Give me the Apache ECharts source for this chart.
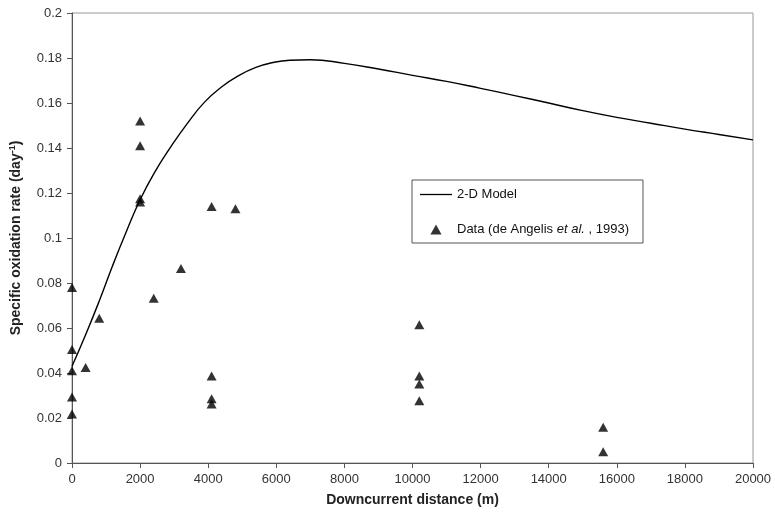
<!DOCTYPE html>
<html>
<head>
<meta charset="utf-8">
<script src="https://cdn.jsdelivr.net/npm/echarts@6/dist/echarts.min.js"></script>
<style>
  html, body { margin: 0; padding: 0; background: #fff; }
  #chart { width: 775px; height: 520px; }
</style>
</head>
<body>
<div id="chart"></div>
<script>
// 2-D model curve
const modelX = [0, 400, 800, 1200, 1600, 2000, 2400, 2900, 3400, 3900, 4400, 4900, 5400, 5900, 6400, 7000,
  8000, 9000, 10000, 11000, 12000, 13000, 14000, 15000, 16000, 17000, 18000, 19000, 20000];
const modelY = [0.043, 0.057, 0.072, 0.088, 0.103, 0.117, 0.1285, 0.1405, 0.1512, 0.1605, 0.1672, 0.1722, 0.1758, 0.178, 0.179, 0.1792,
  0.1776, 0.1751, 0.1723, 0.1696, 0.1665, 0.1633, 0.160, 0.1566, 0.1536, 0.151, 0.1484, 0.146, 0.1436];

// de Angelis et al. (1993) measurements
const dataX = [0, 0, 0, 0, 0, 400, 800, 2000, 2000, 2000, 2000, 2400, 3200, 4100, 4100, 4100, 4100, 4800,
  10200, 10200, 10200, 10200, 15600, 15600];
const dataY = [0.078, 0.0505, 0.041, 0.0293, 0.0218, 0.0425, 0.0643, 0.152, 0.141, 0.1175, 0.116, 0.0732, 0.0864,
  0.114, 0.0387, 0.0286, 0.0262, 0.113, 0.0615, 0.0387, 0.0351, 0.0277, 0.0159, 0.005];

const chart = echarts.init(document.getElementById('chart'));

const font = 'Liberation Sans, Arial, sans-serif';

const option = {
  animation: false,
  grid: {
    left: 71, right: 22, top: 13, bottom: 57,
    show: true, borderColor: '#999', borderWidth: 1
  },
  legend: {
    left: 412, top: 180,
    orient: 'vertical',
    backgroundColor: '#fff',
    borderColor: '#555', borderWidth: 1, borderRadius: 0,
    padding: [8, 14, 7, 8],
    itemGap: 22,
    itemWidth: 32, itemHeight: 10,
    symbolKeepAspect: true,
    textStyle: { fontFamily: font, fontSize: 13, color: '#111', rich: { i: { fontStyle: 'italic', fontFamily: font, fontSize: 13, color: '#111' } } },
    formatter: function (name) {
      if (name.indexOf('Data') === 0) return 'Data (de Angelis {i|et al.} , 1993)';
      return name;
    },
    data: [
      { name: '2-D Model', icon: 'path://M0,0 L32,0 L32,1.3 L0,1.3 Z', itemStyle: { color: '#000' } },
      { name: 'Data', icon: 'path://M5,0 L10,9 L0,9 Z', itemStyle: { color: '#000' } }
    ]
  },
  xAxis: {
    type: 'value', min: 0, max: 20000, interval: 2000,
    name: 'Downcurrent distance (m)', nameLocation: 'middle', nameGap: 30,
    nameTextStyle: { fontFamily: font, fontSize: 14, fontWeight: 'bold', color: '#222' },
    axisLine: { lineStyle: { color: '#555', width: 1 } },
    axisTick: { show: true, length: 5, lineStyle: { color: '#555' } },
    axisLabel: { fontFamily: font, fontSize: 13, color: '#333', margin: 10, formatter: v => String(v) },
    splitLine: { show: false }
  },
  yAxis: {
    type: 'value', min: 0, max: 0.2, interval: 0.02,
    name: 'Specific oxidation rate (day{sup|-1})', nameLocation: 'middle', nameGap: 47, nameRotate: 90,
    nameTextStyle: {
      fontFamily: font, fontSize: 14, fontWeight: 'bold', color: '#222',
      rich: { sup: { fontFamily: font, fontSize: 9, fontWeight: 'bold', color: '#222', padding: [0, 0, 8, 0] } }
    },
    axisLine: { show: true, lineStyle: { color: '#555', width: 1 } },
    axisTick: { show: true, length: 5, lineStyle: { color: '#555' } },
    axisLabel: { fontFamily: font, fontSize: 13, color: '#333', margin: 10 },
    splitLine: { show: false }
  },
  series: [
    {
      name: '2-D Model',
      type: 'line',
      smooth: true,
      symbol: 'none',
      lineStyle: { color: '#000', width: 1.4 },
      itemStyle: { color: '#000' },
      data: modelX.map((x, i) => [x, modelY[i]]),
      z: 2
    },
    {
      name: 'Data',
      type: 'scatter',
      symbol: 'triangle',
      symbolSize: [10, 9],
      itemStyle: { color: '#000' },
      data: dataX.map((x, i) => [x, dataY[i]]),
      z: 3
    }
  ]
};

chart.setOption(option);
</script>
</body>
</html>
